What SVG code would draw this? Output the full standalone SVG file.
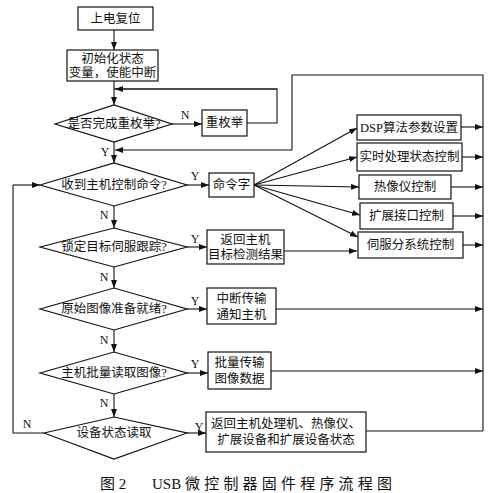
<svg xmlns="http://www.w3.org/2000/svg" width="498" height="493" viewBox="0 0 498 493">
<defs>
<marker id="ah" markerWidth="8" markerHeight="6" refX="8" refY="3" orient="auto" markerUnits="userSpaceOnUse">
<path d="M0,0 L8,3 L0,6 Z" fill="#111"/>
</marker>
<style>
.b{fill:#fff;stroke:#111;stroke-width:1.2}
.t{font-family:"Liberation Serif","Noto Sans CJK SC",serif;font-size:12.5px;fill:#111;text-anchor:middle}
.l{font-family:"Liberation Serif",serif;font-size:12px;fill:#111;text-anchor:middle}
.c{fill:none;stroke:#111;stroke-width:1.1}
.a{fill:none;stroke:#111;stroke-width:1.1;marker-end:url(#ah)}
.cap{font-family:"Liberation Serif","Noto Sans CJK SC",serif;font-size:15px;fill:#111}
</style>
</defs>
<rect width="498" height="493" fill="#fff"/>
<g id="connectors">
<path class="a" d="M114,30 V50"/>
<path class="a" d="M114,81 V105"/>
<path class="a" d="M172,124 H202"/>
<path class="c" d="M247,123 H277 V89 H114"/>
<path class="a" d="M277,89 H115"/>
<path class="a" d="M114,142 V163"/>
<path class="c" d="M292,150 V75 H483 V431"/>
<path class="a" d="M292,150 H115"/>
<path class="a" d="M187,185 H209"/>
<path class="a" d="M254,185 L357,128"/>
<path class="a" d="M254,185 L357,157"/>
<path class="a" d="M254,185 L359,187"/>
<path class="a" d="M254,185 L360,215"/>
<path class="a" d="M254,185 L358,237"/>
<path class="a" d="M461,127 H483"/>
<path class="a" d="M462,157 H483"/>
<path class="a" d="M451,187 H483"/>
<path class="a" d="M453,216 H483"/>
<path class="a" d="M463,245 H483"/>
<path class="a" d="M114,206 V228"/>
<path class="a" d="M187,247 H207"/>
<path class="a" d="M284,251 H357"/>
<path class="a" d="M114,267 V288"/>
<path class="a" d="M187,309 H207"/>
<path class="a" d="M276,309 H483"/>
<path class="a" d="M114,330 V352"/>
<path class="a" d="M187,373 H208"/>
<path class="a" d="M271,371 H483"/>
<path class="a" d="M114,394 V417"/>
<path class="a" d="M187,433 H206"/>
<path class="c" d="M366,431 H483"/>
<path class="c" d="M44,433 H13 V185"/>
<path class="a" d="M13,185 H40"/>
<text class="l" x="185" y="119">N</text>
<text class="l" x="105" y="156">Y</text>
<text class="l" x="195" y="180">Y</text>
<text class="l" x="104" y="219">N</text>
<text class="l" x="195" y="243">Y</text>
<text class="l" x="104" y="281">N</text>
<text class="l" x="195" y="305">Y</text>
<text class="l" x="104" y="344">N</text>
<text class="l" x="195" y="368">Y</text>
<text class="l" x="104" y="407">N</text>
<text class="l" x="27" y="428">N</text>
<text class="l" x="199" y="431">Y</text>
</g>
<g id="n-start"><rect class="b" x="78" y="7" width="75" height="23"/><text class="t" x="115.5" y="23">上电复位</text></g>
<g id="n-init"><rect class="b" x="67" y="50" width="91" height="31"/><text class="t" x="112.5" y="63">初始化状态</text><text class="t" x="112.5" y="77">变量，使能中断</text></g>
<g id="d-enum"><polygon class="b" points="55,124 114,105 172,124 114,142"/><text class="t" x="114" y="128">是否完成重枚举?</text></g>
<g id="n-reenum"><rect class="b" x="202" y="110" width="45" height="26"/><text class="t" x="224.5" y="127">重枚举</text></g>
<g id="d-cmd"><polygon class="b" points="40,185 114,163 187,185 114,206"/><text class="t" x="114" y="189">收到主机控制命令?</text></g>
<g id="n-cmdword"><rect class="b" x="209" y="173" width="45" height="24"/><text class="t" x="231.5" y="189">命令字</text></g>
<g id="n-dsp"><rect class="b" x="357" y="115" width="104" height="25"/><text class="t" x="409" y="132">DSP算法参数设置</text></g>
<g id="n-rt"><rect class="b" x="357" y="143" width="105" height="28"/><text class="t" x="409.5" y="161">实时处理状态控制</text></g>
<g id="n-thermal"><rect class="b" x="359" y="175" width="92" height="24"/><text class="t" x="405" y="191">热像仪控制</text></g>
<g id="n-ext"><rect class="b" x="360" y="203" width="93" height="26"/><text class="t" x="406.5" y="220">扩展接口控制</text></g>
<g id="n-servo"><rect class="b" x="358" y="232" width="105" height="26"/><text class="t" x="410.5" y="249">伺服分系统控制</text></g>
<g id="d-lock"><polygon class="b" points="40,247 114,228 187,247 114,267"/><text class="t" x="114" y="251">锁定目标伺服跟踪?</text></g>
<g id="n-ret"><rect class="b" x="207" y="230" width="77" height="34"/><text class="t" x="245.5" y="244">返回主机</text><text class="t" x="245.5" y="259">目标检测结果</text></g>
<g id="d-raw"><polygon class="b" points="40,309 114,288 187,309 114,330"/><text class="t" x="114" y="313">原始图像准备就绪?</text></g>
<g id="n-int"><rect class="b" x="207" y="288" width="69" height="36"/><text class="t" x="241.5" y="303">中断传输</text><text class="t" x="241.5" y="319">通知主机</text></g>
<g id="d-bulk"><polygon class="b" points="40,373 114,352 187,373 114,394"/><text class="t" x="114" y="377">主机批量读取图像?</text></g>
<g id="n-bulk"><rect class="b" x="208" y="352" width="63" height="37"/><text class="t" x="239.5" y="367">批量传输</text><text class="t" x="239.5" y="383">图像数据</text></g>
<g id="d-status"><polygon class="b" points="44,433 114,417 187,433 114,459"/><text class="t" x="114" y="437">设备状态读取</text></g>
<g id="n-status"><rect class="b" x="206" y="412" width="160" height="40"/><text class="t" x="286" y="428">返回主机处理机、热像仪、</text><text class="t" x="286" y="444">扩展设备和扩展设备状态</text></g>
<text class="cap" x="100" y="489">图 2</text>
<text class="cap" x="152" y="489">USB</text>
<text class="cap" x="185" y="489" letter-spacing="4.2">微控制器固件程序流程图</text>
</svg>
